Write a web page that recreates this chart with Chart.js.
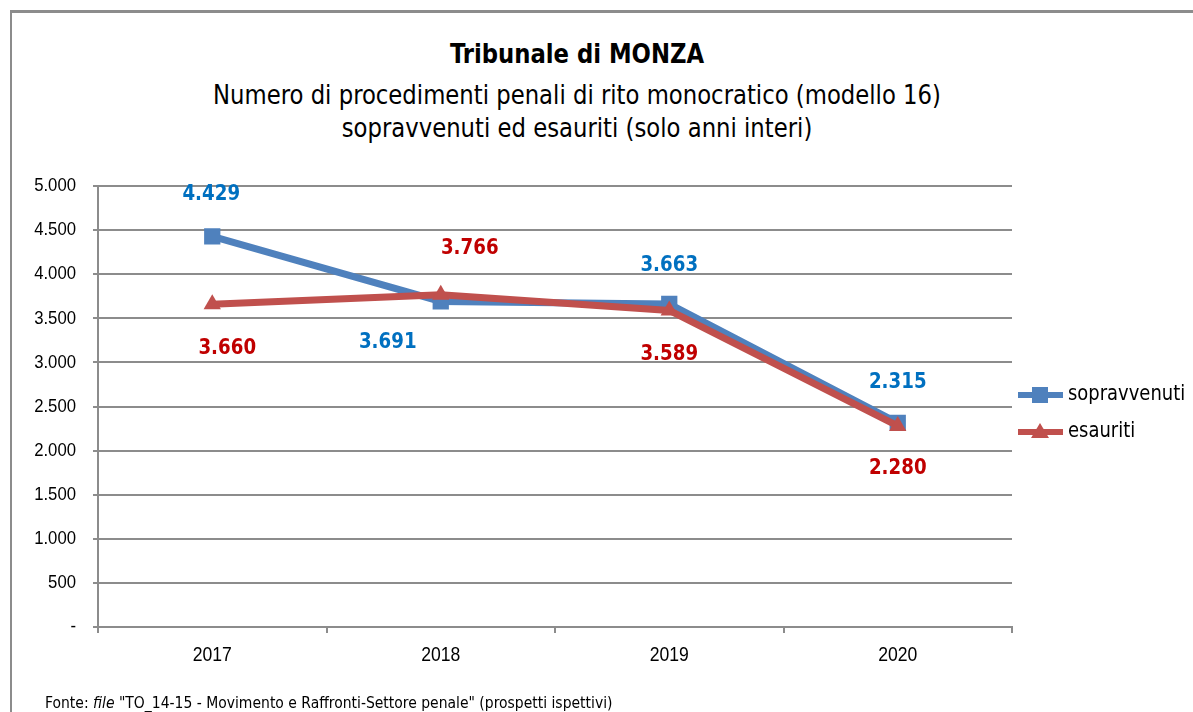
<!DOCTYPE html>
<html>
<head>
<meta charset="utf-8">
<script src="https://cdn.jsdelivr.net/npm/chart.js@4.4.0/dist/chart.umd.min.js"></script>
<style>
  body { margin: 0; background: #fff; }
  #wrap { position: relative; width: 1193px; height: 712px; overflow: hidden; }
  #frame { position: absolute; left: 10px; top: 10px; width: 1200px; height: 720px;
           border-top: 3px solid #8c8c8c; border-left: 2px solid #8c8c8c; }
  canvas { position: absolute; left: 0; top: 0; }
  .t { position: absolute; left: 0; width: 1154px; text-align: center; color: #000;
       font-family: "DejaVu Sans Condensed", "DejaVu Sans", sans-serif; white-space: nowrap;
       font-size: 26px; line-height: 30px; transform: scaleX(0.973); transform-origin: 577px 0; }
  #title { top: 39px; font-weight: bold; }
  #sub1 { top: 80px; }
  #sub2 { top: 113px; }
  #foot { position: absolute; left: 45px; top: 693px; font-size: 15.5px; line-height: 20px;
          font-family: "DejaVu Sans Condensed", "DejaVu Sans", sans-serif; color: #000; white-space: nowrap; }
</style>
</head>
<body>
<div id="wrap">
  <div id="frame"></div>
  <div class="t" id="title">Tribunale di MONZA</div>
  <div class="t" id="sub1">Numero di procedimenti penali di rito monocratico (modello 16)</div>
  <div class="t" id="sub2">sopravvenuti ed esauriti (solo anni interi)</div>
  <canvas id="chart" width="1193" height="712"></canvas>
  <div id="foot">Fonte: <i>file</i> "TO_14-15 - Movimento e Raffronti-Settore penale" (prospetti ispettivi)</div>
</div>
<script>
const years = ["2017", "2018", "2019", "2020"];
const sopravvenuti = [4429, 3691, 3663, 2315];
const esauriti = [3660, 3766, 3589, 2280];
const seriesNames = ["sopravvenuti", "esauriti"];

const fmt = (v) => v === 0 ? "-" : v.toLocaleString("it-IT");

// where each value label sits relative to its point
const labelOffsets = [
  [[-1, -42], [-53, 41], [0, -39], [0, -41]],
  [[15, 44], [29, -47], [0, 44], [0, 42]]
];
const labelColors = ["#0070C0", "#C00000"];

// narrow text helper (the original uses a condensed font)
function narrowText(ctx, text, x, y, sx) {
  ctx.save();
  ctx.translate(x, y);
  ctx.scale(sx, 1);
  ctx.fillText(text, 0, 0);
  ctx.restore();
}

const valueLabels = {
  id: "valueLabels",
  afterDatasetsDraw(chart) {
    const ctx = chart.ctx;
    ctx.save();
    ctx.font = "bold 22px 'DejaVu Sans Condensed', 'DejaVu Sans', sans-serif";
    ctx.textAlign = "center";
    ctx.textBaseline = "middle";
    chart.data.datasets.forEach((ds, i) => {
      const meta = chart.getDatasetMeta(i);
      meta.data.forEach((pt, j) => {
        const off = labelOffsets[i][j];
        ctx.fillStyle = labelColors[i];
        narrowText(ctx, fmt(ds.data[j]), pt.x + off[0], pt.y + off[1], 0.92);
      });
    });
    ctx.restore();
  }
};

const axisLabels = {
  id: "axisLabels",
  afterDraw(chart) {
    const ctx = chart.ctx;
    const xs = chart.scales.x, ys = chart.scales.y;
    ctx.save();
    ctx.fillStyle = "#000";
    ctx.textBaseline = "middle";
    ctx.font = "19px 'Liberation Sans', Arial, sans-serif";
    ctx.textAlign = "right";
    ys.ticks.forEach((t) => {
      narrowText(ctx, fmt(t.value), 76, ys.getPixelForValue(t.value), 0.88);
    });
    ctx.font = "20px 'Liberation Sans', Arial, sans-serif";
    ctx.textAlign = "center";
    years.forEach((y, i) => {
      narrowText(ctx, y, xs.getPixelForValue(i), 655, 0.88);
    });
    ctx.restore();
  }
};

const sideLegend = {
  id: "sideLegend",
  afterDraw(chart) {
    const ctx = chart.ctx;
    const rows = [395, 432];
    ctx.save();
    chart.data.datasets.forEach((ds, i) => {
      const y = rows[i];
      ctx.strokeStyle = ds.borderColor;
      ctx.lineWidth = 6;
      ctx.beginPath();
      ctx.moveTo(1018, y);
      ctx.lineTo(1063, y);
      ctx.stroke();
      ctx.fillStyle = ds.borderColor;
      ctx.beginPath();
      if (ds.pointStyle === "rect") ctx.rect(1032, y - 8, 16, 16);
      else { ctx.moveTo(1040, y - 9); ctx.lineTo(1049, y + 6); ctx.lineTo(1031, y + 6); ctx.closePath(); }
      ctx.fill();
      ctx.fillStyle = "#000";
      ctx.font = "21px 'DejaVu Sans Condensed', 'DejaVu Sans', sans-serif";
      ctx.textAlign = "left";
      ctx.textBaseline = "middle";
      narrowText(ctx, seriesNames[i], 1068, y, 0.95);
    });
    ctx.restore();
  }
};

new Chart(document.getElementById("chart"), {
  type: "line",
  data: {
    labels: years,
    datasets: [
      {
        label: seriesNames[0],
        data: sopravvenuti,
        borderColor: "#4F81BD",
        backgroundColor: "#4F81BD",
        borderWidth: 7,
        pointStyle: "rect",
        pointRadius: 11.5,
        pointBorderWidth: 0,
        tension: 0,
        order: 1
      },
      {
        label: seriesNames[1],
        data: esauriti,
        borderColor: "#C0504D",
        backgroundColor: "#C0504D",
        borderWidth: 7,
        pointStyle: "triangle",
        pointRadius: 10,
        pointBorderWidth: 0,
        tension: 0,
        order: 0
      }
    ]
  },
  options: {
    responsive: false,
    animation: false,
    events: [],
    layout: { padding: { left: 0, right: 181, top: 186, bottom: 45 } },
    plugins: { legend: { display: false }, title: { display: false }, tooltip: { enabled: false } },
    scales: {
      x: {
        offset: true,
        grid: { offset: true, drawOnChartArea: false, color: "#8c8c8c", lineWidth: 2, tickLength: 6 },
        border: { color: "#8c8c8c", width: 2 },
        ticks: { display: false },
        afterFit(s) { s.height = 40; }
      },
      y: {
        min: 0,
        max: 5000,
        ticks: { stepSize: 500, display: false },
        grid: { color: "#8c8c8c", lineWidth: 2, tickLength: 5 },
        border: { color: "#8c8c8c", width: 2 },
        afterFit(s) { s.width = 98; }
      }
    }
  },
  plugins: [valueLabels, axisLabels, sideLegend]
});
</script>
</body>
</html>
